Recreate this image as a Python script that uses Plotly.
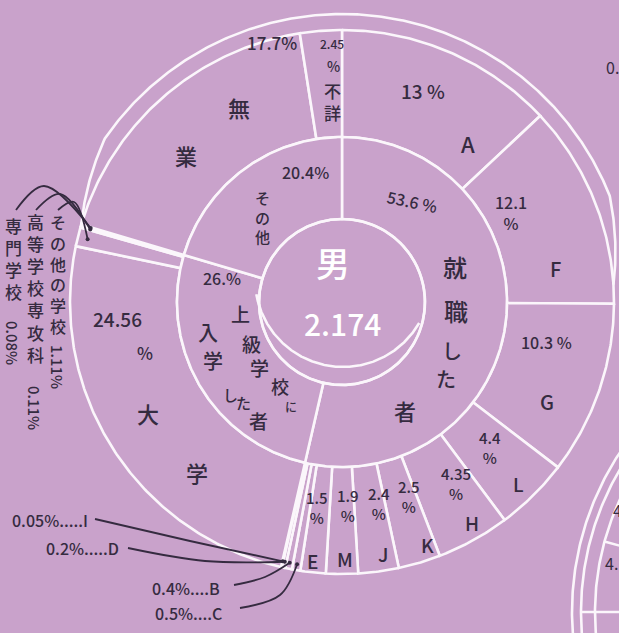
import numpy as np
import plotly.graph_objects as go

# 男子 2,174 名の進路 (%)
CENTER_LABEL = "男"
TOTAL_LABEL = "2.174"

GROUP_NAMES = ["就職した者", "上級学校に入学した者", "その他"]
GROUP_PCT = [53.6, 26.0, 20.4]

DETAIL_NAMES = ["A", "F", "G", "L", "H", "K", "J", "M", "E", "C", "B", "D", "I",
                "大学", "その他の学校", "高等学校専攻科", "専門学校",
                "無業", "不詳"]
DETAIL_PCT = [13, 12.1, 10.3, 4.4, 4.35, 2.5, 2.4, 1.9, 1.5, 0.5, 0.4, 0.2, 0.05,
              24.56, 1.11, 0.11, 0.08,
              17.7, 2.45]
DETAIL_GROUP = [0] * 13 + [1] * 4 + [2] * 2

W, H = 619, 633
BG = "#c9a2cb"
LINE = "#fbf6fb"
INK = "#352b40"
FONT = "Noto Sans CJK JP"

CX, CY = 342, 302
R_CORE, R_MID, R_OUT, R_BAND = 83, 165, 272, 288


def xy(r, a, cx=CX, cy=CY):
    a = np.radians(a)
    return cx + r * np.sin(a), cy - r * np.cos(a)


# angles (clockwise from 12 o'clock)
g_edges = np.r_[0, np.cumsum(GROUP_PCT)] / sum(GROUP_PCT) * 360
d_start, d_end = [0.0] * len(DETAIL_PCT), [0.0] * len(DETAIL_PCT)
for g in range(len(GROUP_PCT)):
    idx = [i for i, p in enumerate(DETAIL_GROUP) if p == g]
    sub = np.array([DETAIL_PCT[i] for i in idx], dtype=float)
    e = g_edges[g] + np.r_[0, np.cumsum(sub)] / sub.sum() * (g_edges[g + 1] - g_edges[g])
    for k, i in enumerate(idx):
        d_start[i], d_end[i] = e[k], e[k + 1]
d_mid = {n: (s + e) / 2 for n, s, e in zip(DETAIL_NAMES, d_start, d_end)}


def wedge(a0, a1, r0, r1, name):
    t = np.linspace(a0, a1, int(abs(a1 - a0) * 2) + 2)
    xo, yo = xy(r1, t)
    xi, yi = xy(r0, t[::-1])
    return go.Scatter(x=np.r_[xo, xi, xo[:1]], y=np.r_[yo, yi, yo[:1]], name=name,
                      mode="lines", fill="toself", fillcolor=BG,
                      line=dict(color=LINE, width=2.6), hoverinfo="name")


def arc(a0, a1, r, cx=CX, cy=CY, width=2.6):
    t = np.linspace(a0, a1, int(abs(a1 - a0) * 2) + 2)
    x, y = xy(r, t, cx, cy)
    return go.Scatter(x=x, y=y, mode="lines", line=dict(color=LINE, width=width), hoverinfo="skip")


fig = go.Figure()

for n, s, e in zip(DETAIL_NAMES, d_start, d_end):
    fig.add_trace(wedge(s, e, R_MID, R_OUT, n))
for g, n in enumerate(GROUP_NAMES):
    fig.add_trace(wedge(g_edges[g], g_edges[g + 1], R_CORE, R_MID, n))

# centre circle (drawn twice by hand at the bottom)
fig.add_trace(arc(0, 360, R_CORE))
fig.add_trace(arc(120, 260, 88, CX + 1, CY - 23))

# outer band over the top
a0 = g_edges[2]
a1 = d_end[DETAIL_NAMES.index("F")] - 4 + 360
t = np.linspace(a0, a1, 400)
ramp = np.minimum(1, np.minimum((t - a0) / 18, (a1 - t) / 18))
bx, by = xy(R_OUT + (R_BAND - R_OUT) * ramp, t)
fig.add_trace(go.Scatter(x=bx, y=by, mode="lines", line=dict(color=LINE, width=2.6), hoverinfo="skip"))

# neighbouring chart, cut off at the lower right
CX2, CY2 = 862, 612
for r in (290, 281, 267):
    fig.add_trace(arc(190, 350, r, CX2, CY2))
for a, r1 in ((285.3, 267), (270, 281)):
    lx, ly = xy(np.array([150, r1]), a, CX2, CY2)
    fig.add_trace(go.Scatter(x=lx, y=ly, mode="lines", line=dict(color=LINE, width=2.6), hoverinfo="skip"))

# leader lines: (slice, label end x, y, bend x, y, radius at slice)
LEADERS = [
    ("I", 95, 519, 190, 541, 266),
    ("D", 128, 548, 205, 561, 266),
    ("B", 234, 585, 265, 577, 266),
    ("C", 240, 608, 280, 595, 266),
    ("専門学校", 16, 210, 44, 186, 262),
    ("高等学校専攻科", 36, 210, 60, 194, 262),
    ("その他の学校", 58, 210, 74, 202, 262),
]
for n, sx, sy, mx, my, r in LEADERS:
    ex, ey = xy(r, d_mid[n])
    fig.add_trace(go.Scatter(x=[sx, mx, ex], y=[sy, my, ey], mode="lines",
                             line=dict(color=INK, width=1.8, shape="spline"), hoverinfo="skip"))
    fig.add_trace(go.Scatter(x=[ex], y=[ey], mode="markers",
                             marker=dict(color=INK, size=4), hoverinfo="skip"))

LABELS = [
    ("17.7%", 272, 42, 17), ("2.45", 332, 43, 12), ("%", 333, 66, 14),
    ("不<br>詳", 332, 101, 17),
    ("13 %", 423, 90, 19), ("A", 468, 143, 22),
    ("12.1<br>%", 511, 212, 16), ("F", 555, 268, 20),
    ("10.3 %", 546, 342, 16), ("G", 547, 401, 20),
    ("4.4<br>%", 490, 447, 15), ("L", 518, 483, 19),
    ("4.35<br>%", 456, 483, 15), ("H", 472, 522, 19),
    ("2.5<br>%", 409, 496, 15), ("K", 427, 544, 19),
    ("2.4<br>%", 379, 503, 15), ("J", 383, 553, 19),
    ("1.9<br>%", 348, 505, 15), ("M", 345, 558, 19),
    ("1.5<br>%", 317, 507, 15), ("E", 312, 560, 19),
    ("24.56", 117, 318, 19), ("%", 145, 352, 17), ("大", 148, 413, 22), ("学", 197, 472, 22),
    ("26.%", 222, 278, 16), ("20.4%", 305, 172, 16),
    ("そ<br>の<br>他", 262, 217, 15),
    ("無", 239, 107, 22), ("業", 186, 155, 22),
    ("就", 455, 266, 24), ("職", 456, 310, 24), ("し", 452, 350, 20), ("た", 446, 378, 20),
    ("者", 405, 410, 22),
    ("上", 240, 313, 19), ("級", 251, 343, 19), ("学", 259, 367, 19), ("校", 280, 386, 18),
    ("に", 291, 406, 12),
    ("入", 208, 332, 20), ("学", 213, 360, 20), ("し", 230, 394, 15), ("た", 243, 402, 15),
    ("者", 258, 420, 19),
    ("0.05%.....I", 50, 520, 16), ("0.2%.....D", 82, 548, 16),
    ("0.4%....B", 186, 588, 16), ("0.5%....C", 188, 613, 16),
]
ann = [dict(text=s, x=x, y=y, font=dict(size=sz, color=INK, family=FONT, weight=500))
       for s, x, y, sz in LABELS]
ann.append(dict(text="53.6 %", x=412, y=201, textangle=12,
                font=dict(size=16, color=INK, family=FONT, weight=500)))
ann.append(dict(text=CENTER_LABEL, x=333, y=262, font=dict(size=34, color="white", family=FONT, weight=500)))
ann.append(dict(text=TOTAL_LABEL, x=342, y=323, font=dict(size=30, color="white", family=FONT, weight=500)))

# vertical captions for the small school slices: text, x, top y, size, number, number y
COLUMNS = [
    ("その他の学校", 58, 222, 16, "1.11%", 367),
    ("高等学校専攻科", 35, 222, 17, "0.11%", 408),
    ("専門学校", 13, 225, 17, "0.08%", 343),
]
for chars, x, y0, sz, num, ny in COLUMNS:
    step = sz * 1.3
    ann.append(dict(text="<br>".join(chars), x=x, y=y0 + step * (len(chars) - 1) / 2,
                    font=dict(size=sz, color=INK, family=FONT, weight=500)))
    ann.append(dict(text=num, x=x, y=ny, textangle=90,
                    font=dict(size=15, color=INK, family=FONT, weight=500)))

# cut-off text from the neighbouring charts
for s, x, y in (("0.", 604, 67), ("4", 611, 510), ("4.", 603, 563)):
    ann.append(dict(text=s, x=x, y=y, xanchor="left", font=dict(size=16, color=INK, family=FONT)))

for a in ann:
    a.update(xref="x", yref="y", showarrow=False)

fig.update_layout(
    width=W, height=H, margin=dict(l=0, r=0, t=0, b=0),
    paper_bgcolor=BG, plot_bgcolor=BG, showlegend=False,
    xaxis=dict(range=[0, W], visible=False, fixedrange=True),
    yaxis=dict(range=[H, 0], visible=False, fixedrange=True),
    annotations=ann,
)
fig.write_html("out.html", config={"displayModeBar": False},
               post_script="document.body.style.margin='0';")
